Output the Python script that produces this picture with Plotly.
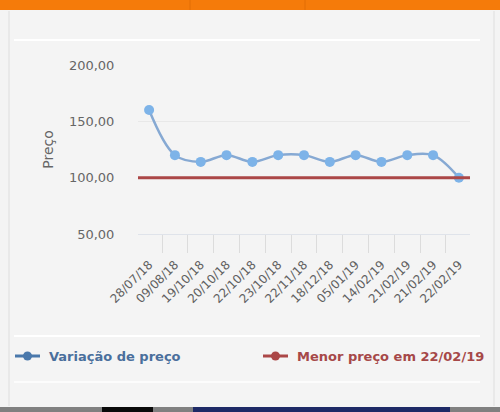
import plotly.graph_objects as go

# price history
datas = ["28/07/18", "09/08/18", "19/10/18", "20/10/18", "22/10/18", "23/10/18",
         "22/11/18", "18/12/18", "05/01/19", "14/02/19", "21/02/19", "21/02/19",
         "22/02/19"]
precos = [160, 120, 114, 120, 114, 120, 120, 114, 120, 114, 120, 120, 100]
y_ticks = [50, 100, 150, 200]

menor = min(precos)
data_menor = datas[precos.index(menor)]
idx = list(range(len(datas)))

W_PX, H_PX = 500, 412
L, R, T, B = 138, 30, 65, 178
PW = W_PX - L - R
PH = H_PX - T - B


def px_x(px):
    return (px - L) / PW


def px_y(py):
    return (H_PX - B - py) / PH


BG = "#f4f4f4"
TXT = "#666666"
BLUE_LEG = "#4a78ab"
RED = "#ab4747"

fig = go.Figure()

# minimum price line across the plot
fig.add_shape(type="line", xref="paper", x0=0, x1=1, yref="y", y0=menor, y1=menor,
              line=dict(color=RED, width=3), layer="above")

fig.add_trace(go.Scatter(
    x=idx, y=precos, mode="lines+markers",
    line=dict(color="#86a9d3", width=2.5, shape="spline", smoothing=1),
    marker=dict(color="#7db3e8", size=10),
    showlegend=False, hoverinfo="skip"))

shapes = [
    # orange header bar
    dict(type="rect", x0=px_x(0), x1=px_x(500), y0=px_y(0), y1=px_y(10),
         fillcolor="#f57b0a", line_width=0),
    dict(type="line", x0=px_x(190), x1=px_x(190), y0=px_y(0), y1=px_y(10),
         line=dict(color="#e26f05", width=1)),
    dict(type="line", x0=px_x(305), x1=px_x(305), y0=px_y(0), y1=px_y(10),
         line=dict(color="#e26f05", width=1)),
    # panel borders
    dict(type="line", x0=px_x(9), x1=px_x(9), y0=px_y(11), y1=px_y(406),
         line=dict(color="#dedede", width=1)),
    dict(type="line", x0=px_x(494), x1=px_x(494), y0=px_y(11), y1=px_y(406),
         line=dict(color="#dedede", width=1)),
    dict(type="line", x0=px_x(14), x1=px_x(480), y0=px_y(40), y1=px_y(40),
         line=dict(color="#ffffff", width=2)),
    dict(type="line", x0=px_x(14), x1=px_x(480), y0=px_y(336), y1=px_y(336),
         line=dict(color="#ffffff", width=2)),
    dict(type="line", x0=px_x(14), x1=px_x(480), y0=px_y(382), y1=px_y(382),
         line=dict(color="#ffffff", width=1.5)),
    # bottom strip
    dict(type="rect", x0=px_x(0), x1=px_x(500), y0=px_y(407), y1=px_y(412),
         fillcolor="#808080", line_width=0),
    dict(type="rect", x0=px_x(102), x1=px_x(153), y0=px_y(407), y1=px_y(412),
         fillcolor="#0a0a0a", line_width=0),
    dict(type="rect", x0=px_x(193), x1=px_x(450), y0=px_y(407), y1=px_y(412),
         fillcolor="#1e2a66", line_width=0),
]

# legend symbols (line with a dot)
legend_items = [("Variação de preço", BLUE_LEG, "#4a6f9c", 15),
                ("Menor preço em %s" % data_menor, RED, "#a64848", 263)]
annotations = []
for label, sym_col, txt_col, x0 in legend_items:
    shapes.append(dict(type="line", x0=px_x(x0), x1=px_x(x0 + 25), y0=px_y(356), y1=px_y(356),
                       line=dict(color=sym_col, width=3)))
    shapes.append(dict(type="circle", x0=px_x(x0 + 8), x1=px_x(x0 + 17),
                       y0=px_y(351.5), y1=px_y(360.5), fillcolor=sym_col, line_width=0))
    annotations.append(dict(text="<b>%s</b>" % label, x=px_x(x0 + 32), y=px_y(356),
                            xref="paper", yref="paper", xanchor="left", yanchor="middle",
                            showarrow=False, font=dict(family="DejaVu Sans", size=13, color=txt_col)))

for s in shapes:
    s.update(xref="paper", yref="paper", layer="below")
    fig.add_shape(**s)

fig.update_layout(
    width=W_PX, height=H_PX, autosize=False,
    margin=dict(l=L, r=R, t=T, b=B),
    paper_bgcolor=BG, plot_bgcolor=BG,
    separators=",.",
    showlegend=False,
    annotations=annotations,
    font=dict(family="DejaVu Sans", color=TXT, size=12),
    xaxis=dict(range=[-0.43, len(datas) - 1 + 0.43], tickmode="array",
               tickvals=idx, ticktext=datas, tickangle=-45,
               tickfont=dict(size=12, color="#606060"), showgrid=False, zeroline=False,
               showline=True, linecolor="#dfe3ea", linewidth=1, automargin=False,
               ticks="outside", ticklen=16, tickcolor="rgba(0,0,0,0)",
               ticklabelstandoff=2,
               minor=dict(tickmode="array", tickvals=[i - 0.5 for i in idx] + [idx[-1] + 0.5],
                          ticks="outside", ticklen=18, tickcolor="#dcdcdc", tickwidth=1)),
    yaxis=dict(range=[min(y_ticks), max(y_ticks)], tickmode="array", tickvals=y_ticks,
               tickformat=".2f", tickfont=dict(size=13, color=TXT),
               ticks="outside", ticklen=20, tickcolor="rgba(0,0,0,0)",
               showgrid=True, gridcolor="#e8e8e8", automargin=False,
               zeroline=False, showline=False,
               title=dict(text="Preço", font=dict(size=14, color=TXT), standoff=12)),
)

fig.write_html("out.html", config={"displayModeBar": False, "responsive": False},
               post_script="document.body.style.margin='0';document.body.style.overflow='hidden';")
